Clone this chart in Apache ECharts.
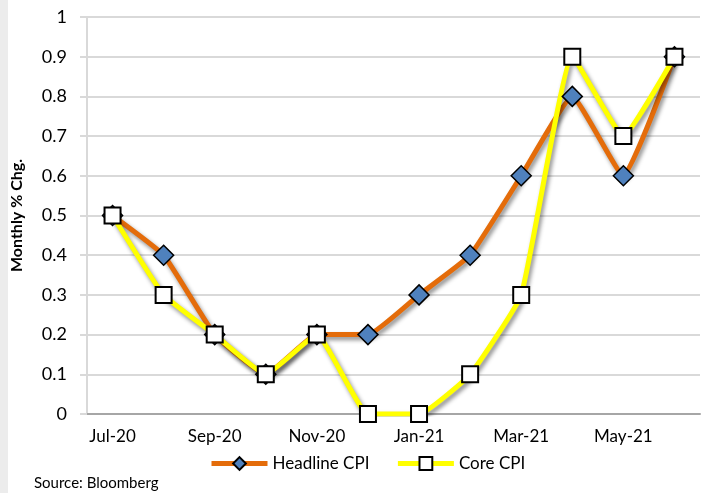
<!DOCTYPE html>
<html>
<head>
<meta charset="utf-8">
<script src="https://cdn.jsdelivr.net/npm/echarts@6/dist/echarts.min.js"></script>
<style>
  html, body { margin: 0; padding: 0; background: #fff; }
  #chart { width: 713px; height: 493px; border-left: 8px solid #ececec; box-sizing: border-box; }
</style>
</head>
<body>
<div id="chart"></div>
<script>
const months = ['Jul-20', 'Aug-20', 'Sep-20', 'Oct-20', 'Nov-20', 'Dec-20',
  'Jan-21', 'Feb-21', 'Mar-21', 'Apr-21', 'May-21', 'Jun-21']
const headline = [0.5, 0.4, 0.2, 0.1, 0.2, 0.2, 0.3, 0.4, 0.6, 0.8, 0.6, 0.9]
const core = [0.5, 0.3, 0.2, 0.1, 0.2, 0.0, 0.0, 0.1, 0.3, 0.9, 0.7, 0.9]

const font = 'Lato, "Open Sans", sans-serif'
const shadow = { shadowColor: 'rgba(0,0,0,0.45)', shadowBlur: 4, shadowOffsetX: 2, shadowOffsetY: 3 }

const chart = echarts.init(document.getElementById('chart'))
chart.setOption({
  animation: false,
  textStyle: { fontFamily: font },
  grid: { left: 79, right: 13, top: 17, bottom: 79, outerBoundsMode: 'none', containLabel: false },
  legend: {
    bottom: 16,
    left: 196,
    itemWidth: 56,
    itemHeight: 16,
    itemGap: 26,
    lineStyle: { width: 5 },
    textStyle: { fontSize: 17, color: '#000', fontFamily: font },
    data: ['Headline CPI', 'Core CPI']
  },
  graphic: [{
    type: 'text',
    left: 26,
    bottom: 2,
    style: { text: 'Source: Bloomberg', fontSize: 15, fill: '#000', fontFamily: font }
  }],
  xAxis: {
    type: 'category',
    data: months,
    boundaryGap: true,
    axisLine: { lineStyle: { color: '#a6a6a6', width: 2 } },
    axisTick: { interval: 1, length: 8, lineStyle: { color: '#a6a6a6', width: 1 } },
    axisLabel: { interval: 1, fontSize: 17, color: '#000', margin: 14, fontFamily: font }
  },
  yAxis: {
    type: 'value',
    min: 0,
    max: 1,
    interval: 0.1,
    name: 'Monthly % Chg.',
    nameLocation: 'middle',
    nameGap: 62,
    nameTextStyle: { fontSize: 16, fontWeight: 'bold', color: '#000', fontFamily: font },
    axisLine: { show: true, lineStyle: { color: '#d9d9d9', width: 2 } },
    axisTick: { show: true, length: 7, lineStyle: { color: '#d9d9d9', width: 2 } },
    axisLabel: { fontSize: 18, color: '#000', margin: 20, fontFamily: font },
    splitLine: { lineStyle: { color: '#d9d9d9', width: 2 } }
  },
  series: [{
    name: 'Headline CPI',
    type: 'line',
    data: headline,
    smooth: 0.12,
    symbol: 'diamond',
    symbolSize: 20,
    itemStyle: { color: '#4f81bd', borderColor: '#000', borderWidth: 1.5 },
    lineStyle: Object.assign({ color: '#e46c0a', width: 5 }, shadow)
  }, {
    name: 'Core CPI',
    type: 'line',
    data: core,
    smooth: 0.12,
    symbol: 'rect',
    symbolSize: 16,
    itemStyle: { color: '#fff', borderColor: '#000', borderWidth: 2 },
    lineStyle: Object.assign({ color: '#ffff00', width: 5 }, shadow)
  }]
})
</script>
</body>
</html>
